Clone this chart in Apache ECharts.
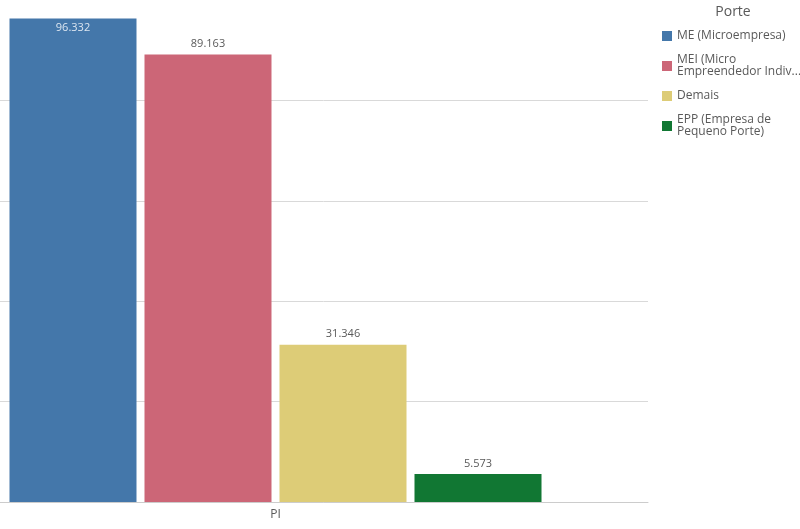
<!DOCTYPE html>
<html>
<head>
<meta charset="utf-8">
<script src="https://cdn.jsdelivr.net/npm/echarts@6/dist/echarts.min.js"></script>
<style>
  html, body { margin: 0; padding: 0; background: #fff; }
  #chart { width: 800px; height: 529px; }
</style>
</head>
<body>
<div id="chart"></div>
<script>
  var categories = ['PI']
  var seriesNames = ['ME (Microempresa)', 'MEI (Micro\nEmpreendedor Indiv...', 'Demais', 'EPP (Empresa de\nPequeno Porte)']
  var seriesValues = [[96.332], [89.163], [31.346], [5.573]]
  var colors = ['#4477aa', '#cc6677', '#ddcc77', '#117733']

  var chart = echarts.init(document.getElementById('chart'))

  function fmt(v) {
    return v.toFixed(3)
  }

  var series = seriesNames.map(function(name, i) {
    var inside = i === 0 // o maior valor fica dentro da barra
    return {
      name: name,
      type: 'bar',
      data: seriesValues[i],
      barWidth: 127,
      barGap: '6.3%',
      itemStyle: { color: colors[i] },
      label: {
        show: true,
        position: inside ? 'insideTop' : 'top',
        distance: inside ? 4 : 5,
        color: inside ? '#dce6f1' : '#595959',
        fontFamily: 'Open Sans',
        fontSize: 11,
        formatter: function(p) { return fmt(p.value) }
      }
    }
  })

  var option = {
    animation: false,
    title: {
      text: 'Porte',
      left: 728,
      top: 0,
      textAlign: 'center',
      textStyle: { fontFamily: 'Open Sans', fontSize: 14, fontWeight: 'normal', color: '#595959' }
    },
    legend: {
      orient: 'vertical',
      left: 657,
      top: 25,
      itemWidth: 10,
      itemHeight: 10,
      itemGap: 12,
      icon: 'rect',
      selectedMode: false,
      data: seriesNames,
      textStyle: { fontFamily: 'Open Sans', fontSize: 12, color: '#595959', lineHeight: 12 }
    },
    grid: {
      left: -97,
      right: 152,
      top: 0,
      bottom: 27,
      outerBoundsMode: 'none'
    },
    xAxis: {
      type: 'category',
      data: categories,
      axisLine: { show: true, lineStyle: { color: '#cccccc' } },
      axisTick: { show: false },
      axisLabel: { color: '#595959', fontFamily: 'Open Sans', fontSize: 12, margin: 7 }
    },
    yAxis: {
      type: 'value',
      min: 0,
      max: 100,
      interval: 20,
      axisLabel: { show: false },
      axisLine: { show: false },
      axisTick: { show: false },
      splitLine: { showMaxLine: false, lineStyle: { color: '#d9d9d9' } }
    },
    series: series
  }

  chart.setOption(option)
</script>
</body>
</html>
